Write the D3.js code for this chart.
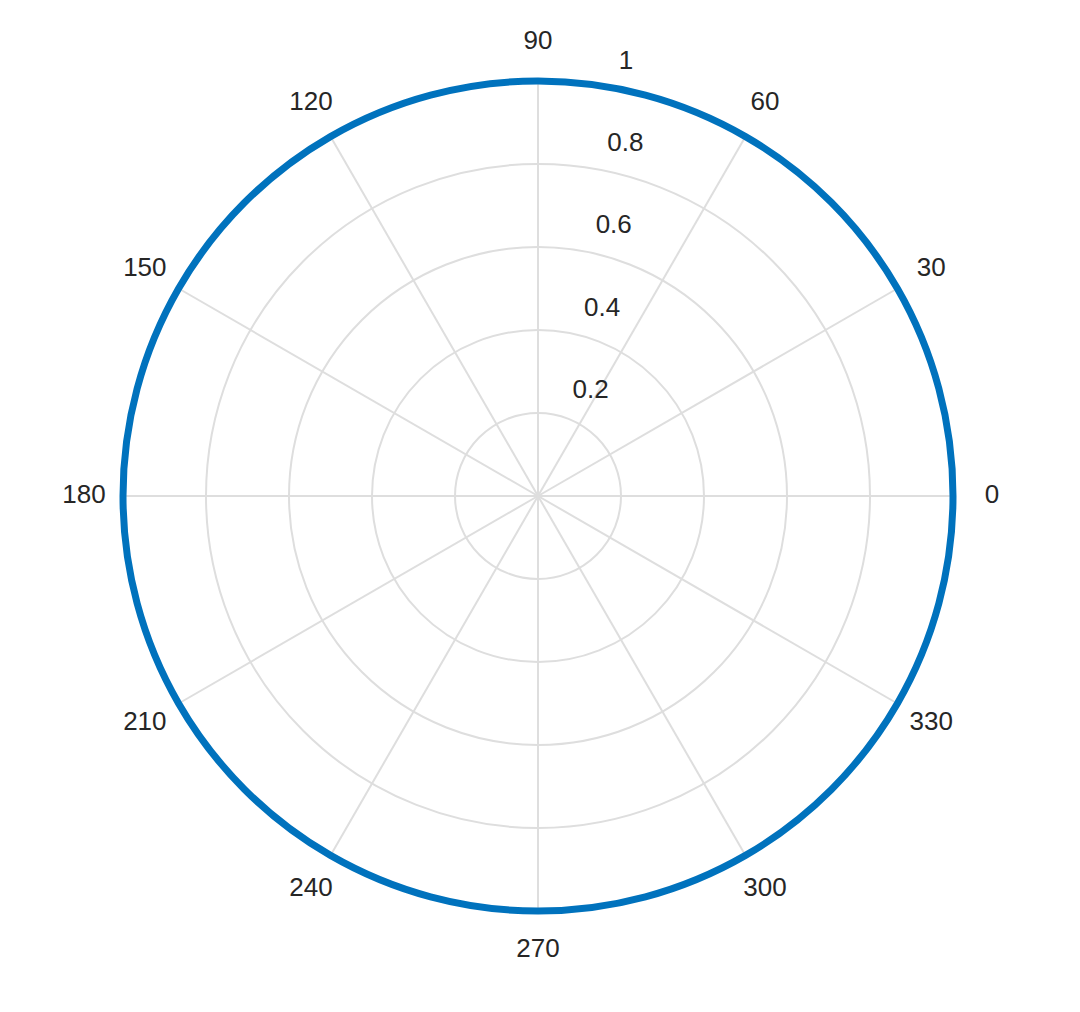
<!DOCTYPE html>
<html><head><meta charset="utf-8">
<script src="https://cdn.jsdelivr.net/npm/d3@7"></script>
<style>body{margin:0;background:#fff}text{font-family:"Liberation Sans",Arial,sans-serif;fill:#262626}</style>
</head><body>
<svg id="c" width="1080" height="1012"></svg>
<script>
const thetaDeg = [0,15,30,45,60,75,90,105,120,135,150,165,180,195,210,225,240,255,270,285,300,315,330,345];
const rValues  = [1,1,1,1,1,1,1,1,1,1,1,1,1,1,1,1,1,1,1,1,1,1,1,1];
const angleTicks = [0,30,60,90,120,150,180,210,240,270,300,330];
const radialTicks = [0.2,0.4,0.6,0.8,1];

const cx=538, cy=496, R=415;
const svg=d3.select("#c");
const g=svg.append("g").attr("transform",`translate(${cx},${cy})`);
const r=d3.scaleLinear().domain([0,1]).range([0,R]);
const rad=d=>d*Math.PI/180;

// grid circles
g.selectAll("circle.grid").data(radialTicks).join("circle")
 .attr("r",d=>r(d)).attr("fill","none").attr("stroke","#dedede").attr("stroke-width",2);
// spokes
g.selectAll("line.sp").data(angleTicks).join("line")
 .attr("x1",0).attr("y1",0)
 .attr("x2",d=>r(1)*Math.cos(rad(d))).attr("y2",d=>-r(1)*Math.sin(rad(d)))
 .attr("stroke","#dedede").attr("stroke-width",2);

// data
const line=d3.lineRadial().angle((d,i)=>Math.PI/2-rad(thetaDeg[i])).radius(d=>r(d)).curve(d3.curveCatmullRomClosed.alpha(0));
g.append("path").datum(rValues).attr("d",line).attr("fill","none").attr("stroke","#0072BD").attr("stroke-width",7);

// angle labels
g.selectAll("text.a").data(angleTicks).join("text")
 .attr("x",d=>(R+39)*Math.cos(rad(d))).attr("y",d=>-(R+39)*Math.sin(rad(d)))
 .attr("text-anchor","middle").attr("dominant-baseline","middle").attr("font-size",26).text(d=>d);
// radial labels
const ra=rad(82);
g.selectAll("text.r").data(radialTicks).join("text")
 .attr("x",d=>23+r(d)*Math.cos(ra)).attr("y",d=>-16-r(d)*Math.sin(ra))
 .attr("font-size",26).text(d=>d);
</script>
</body></html>
